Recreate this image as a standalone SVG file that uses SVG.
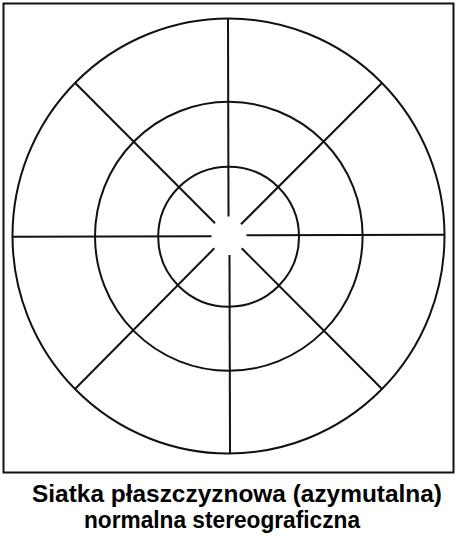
<svg xmlns="http://www.w3.org/2000/svg" width="457" height="536" viewBox="0 0 457 536">
<style>
.c{fill:none;stroke:#111;stroke-width:2}
.l{stroke:#111;stroke-width:2;stroke-linecap:butt}
.t{font-family:"Liberation Sans",Arial,sans-serif;font-weight:bold;font-size:23px;fill:#000;text-anchor:middle}
</style>
<rect width="457" height="536" fill="#fff"/>
<rect id="frame" x="3.5" y="3.5" width="450" height="469" fill="none" stroke="#111" stroke-width="2"/>
<g id="circles">
<ellipse id="outer" class="c" cx="228.5" cy="236" rx="216" ry="217.5" stroke-width="1.6"/>
<ellipse id="middle" class="c" cx="228.8" cy="236.3" rx="133.8" ry="134.5"/>
<ellipse id="inner" class="c" cx="228.6" cy="236.7" rx="70.4" ry="70"/>
</g>
<g id="connectors">
<line class="l" x1="228" y1="18.5" x2="228.5" y2="216.5"/>
<line class="l" x1="229.5" y1="255" x2="230" y2="453.5"/>
<line class="l" x1="12.7" y1="236.7" x2="211.5" y2="236.3"/>
<line class="l" x1="246.5" y1="235.3" x2="444.3" y2="234.7"/>
<line class="l" x1="75" y1="82.7" x2="215" y2="223.3"/>
<line class="l" x1="241" y1="224.3" x2="382" y2="83"/>
<line class="l" x1="214.3" y1="248.3" x2="75" y2="389"/>
<line class="l" x1="241.7" y1="248.3" x2="382" y2="389"/>
</g>
<g id="caption">
<text class="t" x="237" y="501.5" textLength="410" lengthAdjust="spacingAndGlyphs">Siatka płaszczyznowa (azymutalna)</text>
<text class="t" x="222" y="527.5" textLength="276" lengthAdjust="spacingAndGlyphs">normalna stereograficzna</text>
</g>
</svg>
